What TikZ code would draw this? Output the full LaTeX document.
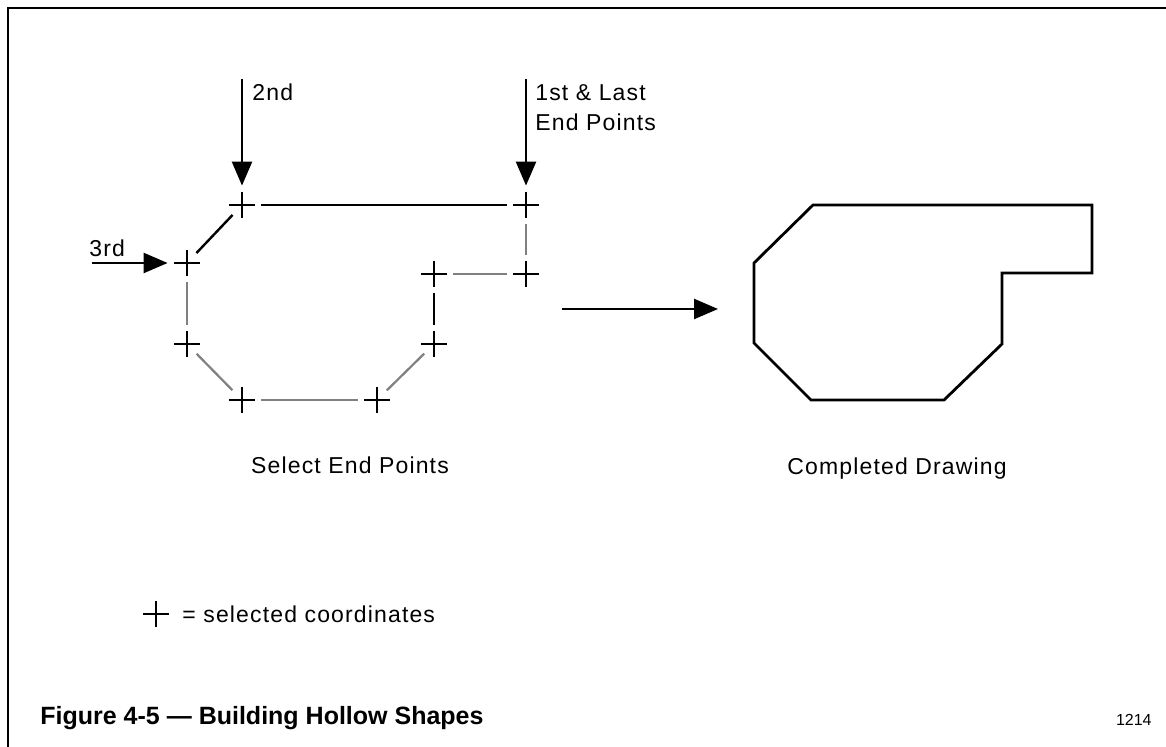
\documentclass[tikz,border=0pt]{standalone}
\usepackage{fontspec}
\setmainfont{Liberation Sans}
\newfontfamily\lblfont[LetterSpace=5]{Liberation Sans}
\usepackage{xcolor}
\usetikzlibrary{arrows.meta, positioning, shapes.geometric}
\definecolor{guidegray}{RGB}{128, 128, 128}

\begin{document}
\begin{tikzpicture}[
    x=0.5pt, y=-0.5pt,
    lbl/.style={inner sep=0pt, font=\lblfont\fontsize{11.5}{14}\selectfont},
    selpt/.style={diamond, inner sep=0pt, minimum size=19pt,
        path picture={\draw[line width=1pt]
            ([yshift=6.5pt]path picture bounding box.center) -- ([yshift=-6.5pt]path picture bounding box.center)
            ([xshift=-6.5pt]path picture bounding box.center) -- ([xshift=6.5pt]path picture bounding box.center);}},
    done/.style={line width=1.2pt},
    todo/.style={line width=1.1pt, draw=guidegray},
    arrow/.style={-{Triangle[length=12pt, width=10pt]}, line width=1.2pt},
    outline/.style={line width=1.4pt, line join=miter}
]
    \useasboundingbox (0,0) rectangle (1166,747);
    \draw[line width=1.4pt] (1166,8) -- (8,8) -- (8,747);

    \node[selpt] (p1) at (526,205) {};
    \node[selpt] (p2) at (242,205) {};
    \node[selpt] (p3) at (187,263) {};
    \node[selpt] (p4) at (187,344) {};
    \node[selpt] (p5) at (242,400) {};
    \node[selpt] (p6) at (377,400) {};
    \node[selpt] (p7) at (434,344) {};
    \node[selpt] (p8) at (434,274) {};
    \node[selpt] (p9) at (526,274) {};

    \draw[done] (p1) -- (p2);
    \draw[done] (p2) -- (p3);
    \draw[todo] (p3) -- (p4);
    \draw[todo] (p4) -- (p5);
    \draw[todo] (p5) -- (p6);
    \draw[todo] (p6) -- (p7);
    \draw[done, line width=1pt] (p7) -- (p8);
    \draw[todo] (p8) -- (p9);
    \draw[todo] (p9) -- (p1);

    \coordinate (a1) at (526,79);
    \coordinate (a2) at (242,79);
    \coordinate (a3) at (92,263);
    \draw[arrow] (a1) -- (p1);
    \draw[arrow] (a2) -- (p2);
    \draw[arrow] (a3) -- (p3);

    \node[lbl, anchor=base west] (l1) at (535,101) {1st \& Last};
    \node[lbl, anchor=base west] (l1b) at (535,131) {End Points};
    \node[lbl, anchor=base west] (l2) at (252,101) {2nd};
    \node[lbl, anchor=base west] (l3) at (89,257) {3rd};

    % finished outline
    \coordinate (go0) at (562,309);
    \coordinate (go1) at (718,309);
    \draw[arrow] (go0) -- (go1);
    \draw[outline] (813,205) -- (1092,205) -- (1092,273) -- (1002,273) -- (1002,344)
        -- (944,400) -- (811,400) -- (754,343) -- (754,263) -- cycle;

    \node[lbl, anchor=base] (selcap) at (350,474) {Select End Points};
    \node[lbl, anchor=base] (donecap) at (897,475) {Completed Drawing};

    \node[selpt] (key) at (156,614) {};
    \node[lbl, anchor=base west] (keytxt) at (182,623) {= selected coordinates};

    \node[anchor=base west, inner sep=0pt, font=\fontsize{12.5}{15}\selectfont\bfseries] (fig) at (40,724) {Figure 4-5 — Building Hollow Shapes};
    \node[anchor=base east, inner sep=0pt, font=\fontsize{8}{10}\selectfont] (num) at (1152,725) {1214};
\end{tikzpicture}
\end{document}
